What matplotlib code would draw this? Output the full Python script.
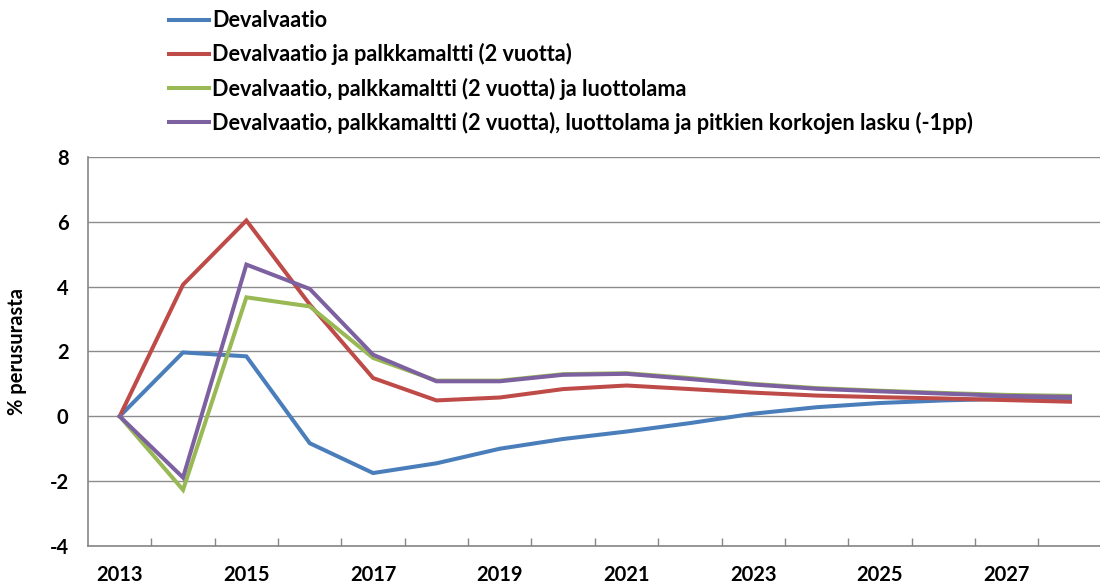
import matplotlib
matplotlib.use("Agg")
import matplotlib.pyplot as plt
import numpy as np

years = list(range(2013, 2029))
devalvaatio = [0, 1.97, 1.85, -0.83, -1.75, -1.45, -1.0, -0.70, -0.47, -0.21, 0.08, 0.28, 0.41, 0.49, 0.54, 0.56]
palkkamaltti = [0, 4.06, 6.04, 3.45, 1.18, 0.49, 0.58, 0.84, 0.95, 0.84, 0.73, 0.64, 0.59, 0.55, 0.50, 0.45]
luottolama = [0, -2.27, 3.67, 3.39, 1.80, 1.10, 1.10, 1.30, 1.33, 1.18, 1.00, 0.87, 0.79, 0.72, 0.66, 0.63]
korot = [0, -1.89, 4.68, 3.93, 1.90, 1.08, 1.08, 1.28, 1.31, 1.15, 0.98, 0.85, 0.77, 0.70, 0.63, 0.60]

labels = [
    "Devalvaatio",
    "Devalvaatio ja palkkamaltti (2 vuotta)",
    "Devalvaatio, palkkamaltti (2 vuotta) ja luottolama",
    "Devalvaatio, palkkamaltti (2 vuotta), luottolama ja pitkien korkojen lasku (-1pp)",
]
colors = ["#4A7EBB", "#BE4B48", "#98B954", "#7D60A0"]
series = [devalvaatio, palkkamaltti, luottolama, korot]

yticks = [-4, -2, 0, 2, 4, 6, 8]

plt.rcParams['font.family'] = ['Lato', 'DejaVu Sans']
plt.rcParams['font.weight'] = 'bold'

fig = plt.figure(figsize=(11, 5.85), dpi=100)
ax = fig.add_axes([0.08, 0.0667, 0.9215, 0.665])

x = np.arange(len(years))
handles = []
for s, c, l in zip(series, colors, labels):
    h, = ax.plot(x, s, color=c, lw=2.9, label=l, solid_joinstyle='miter')
    handles.append(h)

ax.set_xlim(-0.5, len(years) - 0.5)
ax.set_ylim(-4, 8)
ax.set_yticks(yticks)
ax.set_yticklabels([str(v) for v in yticks], fontsize=14.5, fontweight='bold')
ax.tick_params(axis='y', length=0, pad=14)

ax.set_xticks(x[::2])
ax.set_xticklabels([str(y) for y in years[::2]], fontsize=14.5, fontweight='bold')
ax.tick_params(axis='x', length=0, pad=14)
ax.set_xticks(np.arange(0.5, len(years) - 0.5, 1), minor=True)
ax.tick_params(axis='x', which='minor', direction='in', length=6, color='#868686', width=1)

ax.grid(axis='y', color='#8c8c8c', lw=1)
ax.set_axisbelow(True)
for sp in ['top', 'right']:
    ax.spines[sp].set_visible(False)
for sp in ['left', 'bottom']:
    ax.spines[sp].set_color('#868686')
    ax.spines[sp].set_linewidth(1.2)

ax.set_ylabel("% perusurasta", fontsize=14.5, fontweight='bold', labelpad=16)

fig.legend(handles=handles, labels=labels, loc='upper left',
           bbox_to_anchor=(0.136, 1.016), frameon=False,
           handlelength=1.85, handletextpad=0.12,
           labelspacing=0.56, prop={'weight': 'bold', 'size': 15.6})

fig.savefig("out.png", dpi=100)
